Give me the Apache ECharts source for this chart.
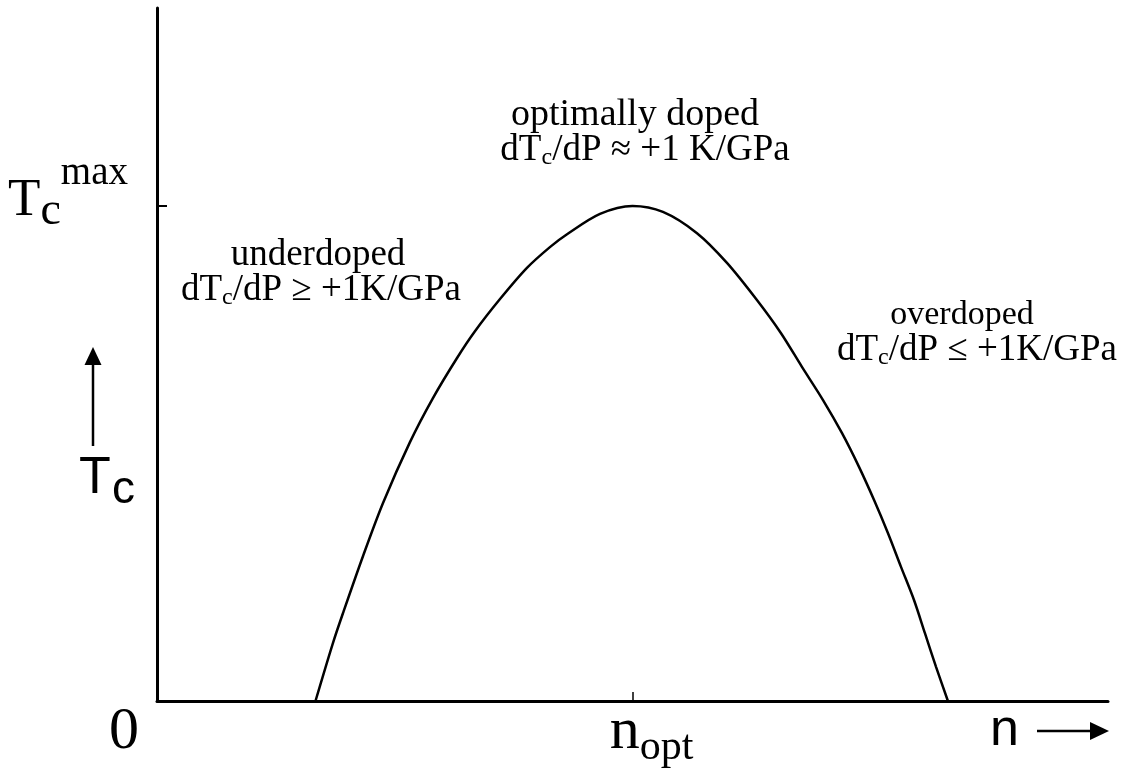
<!DOCTYPE html>
<html lang="en">
<head>
  <meta charset="UTF-8">
  <title>Tc vs n</title>
  <script src="https://cdn.jsdelivr.net/npm/echarts@6/dist/echarts.min.js"></script>
  <style>
    html, body { margin: 0; padding: 0; background: #fff; }
    #main { width: 1130px; height: 774px; }
  </style>
</head>
<body>
<div id="main"></div>
<script>
  const chart = echarts.init(document.getElementById('main'));

  // doping level n (n_opt = 3) and Tc relative to Tc^max
  const nValues = [1.0, 1.110, 1.174, 1.300, 1.426, 1.596, 1.741, 1.893, 2.006, 2.164, 2.334, 2.479, 2.587, 2.795, 3.0,
                   3.192, 3.407, 3.596, 3.785, 3.937, 4.069, 4.202, 4.322, 4.429, 4.524, 4.612, 4.694, 4.776, 4.845, 4.915, 4.99];
  const tcValues = [0, 0.117, 0.178, 0.293, 0.400, 0.523, 0.612, 0.693, 0.747, 0.812, 0.875, 0.917, 0.943, 0.984, 1.0,
                    0.988, 0.945, 0.885, 0.810, 0.743, 0.675, 0.608, 0.541, 0.473, 0.406, 0.339, 0.271, 0.204, 0.137, 0.069, 0];

  const xTicks = [0, 3];   // "0", n_opt
  const yTicks = [1];      // Tc^max

  const serif = 'Liberation Serif';
  const sans = 'Liberation Sans';

  function noteText(x, y, parts, size) {
    return {
      type: 'text',
      x: x, y: y,
      style: {
        text: parts,
        align: 'center',
        verticalAlign: 'middle',
        fill: '#000',
        font: size + 'px ' + serif,
        rich: {
          r: { fontFamily: serif, fontSize: size, lineHeight: 40, verticalAlign: 'middle' },
          s: { fontFamily: serif, fontSize: 24, lineHeight: 20, verticalAlign: 'bottom' }
        }
      }
    };
  }

  chart.setOption({
    animation: false,
    grid: { left: 157, right: 22, top: 8, bottom: 73, containLabel: false, outerBoundsMode: 'none' },
    xAxis: {
      type: 'value',
      min: 0,
      max: 6,
      axisLine: { lineStyle: { color: '#000', width: 3 } },
      axisTick: { show: true, inside: true, length: 9, customValues: [3], lineStyle: { color: '#000', width: 1.5 } },
      splitLine: { show: false },
      axisLabel: {
        customValues: xTicks,
        margin: 1,
        color: '#000',
        formatter: v => v === 0 ? '{z|0}' : '{n|n}{o|opt}',
        rich: {
          z: { fontFamily: serif, fontSize: 60, lineHeight: 60, verticalAlign: 'top', padding: [0, 66, 0, 0] },
          n: { fontFamily: serif, fontSize: 60, lineHeight: 67, verticalAlign: 'top', padding: [0, 0, 0, 38] },
          o: { fontFamily: serif, fontSize: 42, lineHeight: 40, verticalAlign: 'bottom' }
        }
      }
    },
    yAxis: {
      type: 'value',
      min: 0,
      max: 1.4,
      axisLine: { show: true, lineStyle: { color: '#000', width: 3 } },
      axisTick: { show: true, inside: true, length: 10, customValues: yTicks, lineStyle: { color: '#000', width: 2 } },
      splitLine: { show: false },
      axisLabel: {
        customValues: yTicks,
        margin: 29,
        color: '#000',
        padding: [0, 0, 27, 0],
        formatter: () => '{T|T}{c|c}{m|max}',
        rich: {
          T: { fontFamily: serif, fontSize: 53, lineHeight: 85, verticalAlign: 'bottom', padding: [0, 0, 7, 0] },
          c: { fontFamily: serif, fontSize: 46, lineHeight: 50, verticalAlign: 'bottom' },
          m: { fontFamily: serif, fontSize: 39, lineHeight: 40, verticalAlign: 'top', padding: [4, 0, 0, 0] }
        }
      }
    },
    graphic: [
      // Tc arrow on the left
      { type: 'line', shape: { x1: 93, y1: 362, x2: 93, y2: 446 }, style: { stroke: '#000', lineWidth: 2.5 } },
      { type: 'polygon', shape: { points: [[84.5, 365], [101.5, 365], [93, 347]] }, style: { fill: '#000' } },
      { type: 'text', x: 79, y: 479, style: { text: 'T', font: '52px ' + sans, fill: '#000', verticalAlign: 'middle' } },
      { type: 'text', x: 112, y: 490, style: { text: 'c', font: '46px ' + sans, fill: '#000', verticalAlign: 'middle' } },
      // n arrow at the bottom right
      { type: 'text', x: 990, y: 731, style: { text: 'n', font: '52px ' + sans, fill: '#000', verticalAlign: 'middle' } },
      { type: 'line', shape: { x1: 1037, y1: 731, x2: 1094, y2: 731 }, style: { stroke: '#000', lineWidth: 2.5 } },
      { type: 'polygon', shape: { points: [[1090, 722], [1090, 740], [1109, 731]] }, style: { fill: '#000' } },
      // regime notes
      noteText(635, 115, '{r|optimally doped}', 38),
      noteText(645, 150, '{r|dT}{s|c}{r|/dP ≈ +1 K/GPa}', 37),
      noteText(318, 255, '{r|underdoped}', 37),
      noteText(321, 290, '{r|dT}{s|c}{r|/dP ≥ +1K/GPa}', 37),
      noteText(962, 315, '{r|overdoped}', 34),
      noteText(977, 350, '{r|dT}{s|c}{r|/dP ≤ +1K/GPa}', 37)
    ],
    series: [{
      type: 'line',
      data: nValues.map((n, i) => [n, tcValues[i]]),
      showSymbol: false,
      smooth: 0.3,
      lineStyle: { color: '#000', width: 2.5 }
    }]
  });
</script>
</body>
</html>
